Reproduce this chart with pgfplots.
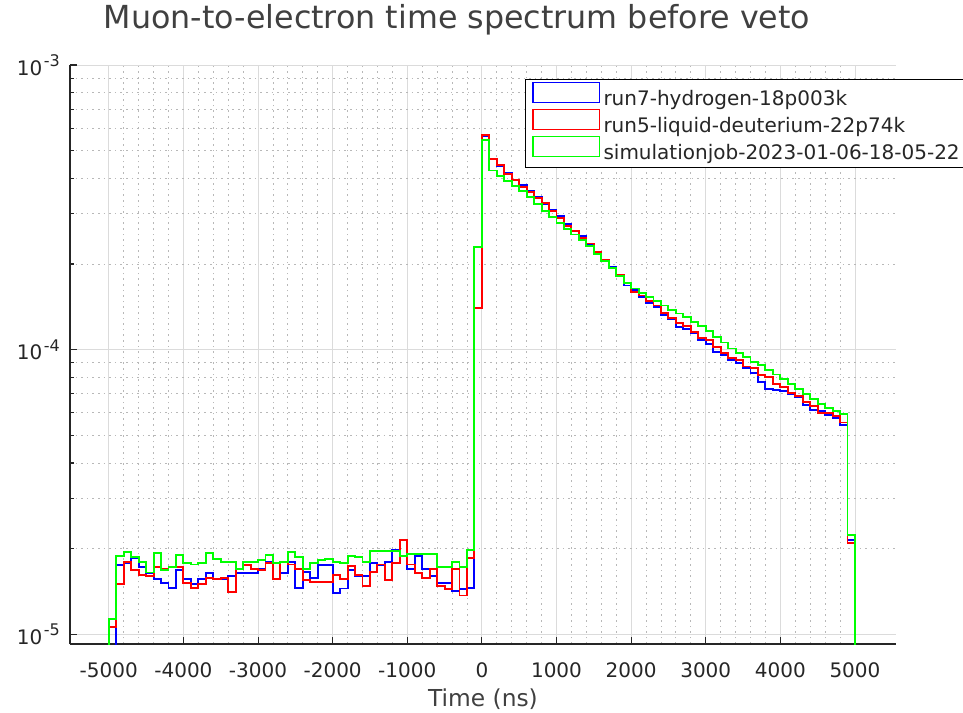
\documentclass[border=0pt]{standalone}
\usepackage{fontspec}
\setmainfont{DejaVu Sans}
\usepackage{pgfplots}
\usepackage{pgfplotstable}
\pgfplotsset{compat=1.18}

\definecolor{txt}{HTML}{262626}
\definecolor{ttl}{HTML}{404040}
\definecolor{hblue}{RGB}{0,0,255}
\definecolor{dred}{RGB}{255,0,0}
\definecolor{sgreen}{RGB}{0,255,0}

% power-of-ten tick label with a large raised exponent
\newcommand{\decade}[1]{10\kern1pt\raisebox{6.5pt}{\fontsize{12}{12}\selectfont #1}}

% Normalised counts per 100 ns bin (left bin edge t in ns).
% Columns: run7 hydrogen (b), run5 liquid deuterium (r), simulation job (g).
% First and last rows close the outline below the axis.
\pgfplotstableread{
t     b        r        g
-5000 1e-7     1e-7     1e-7
-5000 0.85e-5  1.06e-5  1.13e-5
-4900 1.75e-5  1.50e-5  1.88e-5
-4800 1.78e-5  1.80e-5  1.95e-5
-4700 1.85e-5  1.68e-5  1.87e-5
-4600 1.72e-5  1.62e-5  1.80e-5
-4500 1.64e-5  1.60e-5  1.65e-5
-4400 1.57e-5  1.72e-5  1.93e-5
-4300 1.52e-5  1.70e-5  1.68e-5
-4200 1.46e-5  1.72e-5  1.72e-5
-4100 1.68e-5  1.72e-5  1.90e-5
-4000 1.57e-5  1.52e-5  1.78e-5
-3900 1.50e-5  1.46e-5  1.76e-5
-3800 1.57e-5  1.50e-5  1.78e-5
-3700 1.64e-5  1.58e-5  1.93e-5
-3600 1.57e-5  1.57e-5  1.84e-5
-3500 1.57e-5  1.58e-5  1.80e-5
-3400 1.60e-5  1.41e-5  1.80e-5
-3300 1.64e-5  1.70e-5  1.70e-5
-3200 1.64e-5  1.75e-5  1.80e-5
-3100 1.64e-5  1.70e-5  1.80e-5
-3000 1.70e-5  1.68e-5  1.82e-5
-2900 1.80e-5  1.78e-5  1.90e-5
-2800 1.78e-5  1.57e-5  1.78e-5
-2700 1.64e-5  1.80e-5  1.80e-5
-2600 1.80e-5  1.76e-5  1.95e-5
-2500 1.46e-5  1.70e-5  1.87e-5
-2400 1.66e-5  1.55e-5  1.70e-5
-2300 1.58e-5  1.53e-5  1.78e-5
-2200 1.75e-5  1.53e-5  1.82e-5
-2100 1.75e-5  1.53e-5  1.84e-5
-2000 1.40e-5  1.62e-5  1.80e-5
-1900 1.45e-5  1.57e-5  1.78e-5
-1800 1.68e-5  1.74e-5  1.88e-5
-1700 1.60e-5  1.62e-5  1.87e-5
-1600 1.60e-5  1.48e-5  1.80e-5
-1500 1.78e-5  1.66e-5  1.96e-5
-1400 1.75e-5  1.76e-5  1.96e-5
-1300 1.80e-5  1.55e-5  1.96e-5
-1200 1.98e-5  1.78e-5  1.96e-5
-1100 1.88e-5  2.15e-5  1.88e-5
-1000 1.70e-5  1.76e-5  1.92e-5
-900  1.88e-5  1.64e-5  1.92e-5
-800  1.70e-5  1.58e-5  1.92e-5
-700  1.60e-5  1.70e-5  1.92e-5
-600  1.52e-5  1.48e-5  1.72e-5
-500  1.52e-5  1.44e-5  1.72e-5
-400  1.42e-5  1.70e-5  1.80e-5
-300  1.44e-5  1.37e-5  1.72e-5
-200  1.46e-5  1.86e-5  1.98e-5
-100  1.40e-4  1.40e-4  2.30e-4
0     5.62e-4  5.68e-4  5.45e-4
100   4.66e-4  4.69e-4  4.26e-4
200   4.43e-4  4.45e-4  4.07e-4
300   4.18e-4  4.13e-4  3.90e-4
400   3.96e-4  3.94e-4  3.75e-4
500   3.78e-4  3.72e-4  3.61e-4
600   3.62e-4  3.58e-4  3.43e-4
700   3.43e-4  3.41e-4  3.24e-4
800   3.24e-4  3.28e-4  3.07e-4
900   3.09e-4  3.07e-4  2.92e-4
1000  2.95e-4  2.91e-4  2.78e-4
1100  2.76e-4  2.72e-4  2.66e-4
1200  2.62e-4  2.61e-4  2.54e-4
1300  2.50e-4  2.47e-4  2.43e-4
1400  2.34e-4  2.36e-4  2.31e-4
1500  2.21e-4  2.20e-4  2.17e-4
1600  2.04e-4  2.07e-4  2.05e-4
1700  1.95e-4  1.93e-4  1.93e-4
1800  1.82e-4  1.83e-4  1.82e-4
1900  1.68e-4  1.72e-4  1.72e-4
2000  1.62e-4  1.60e-4  1.64e-4
2100  1.53e-4  1.55e-4  1.58e-4
2200  1.46e-4  1.48e-4  1.53e-4
2300  1.41e-4  1.43e-4  1.48e-4
2400  1.32e-4  1.35e-4  1.43e-4
2500  1.28e-4  1.29e-4  1.38e-4
2600  1.20e-4  1.24e-4  1.34e-4
2700  1.18e-4  1.21e-4  1.30e-4
2800  1.14e-4  1.15e-4  1.25e-4
2900  1.08e-4  1.10e-4  1.21e-4
3000  1.05e-4  1.08e-4  1.16e-4
3100  0.98e-4  1.02e-4  1.11e-4
3200  0.96e-4  0.977e-4 1.06e-4
3300  0.92e-4  0.938e-4 1.01e-4
3400  0.90e-4  0.92e-4  0.975e-4
3500  0.86e-4  0.873e-4 0.945e-4
3600  0.83e-4  0.86e-4  0.908e-4
3700  0.77e-4  0.813e-4 0.881e-4
3800  0.73e-4  0.80e-4  0.849e-4
3900  0.72e-4  0.757e-4 0.818e-4
4000  0.715e-4 0.74e-4  0.788e-4
4100  0.70e-4  0.705e-4 0.760e-4
4200  0.68e-4  0.69e-4  0.729e-4
4300  0.64e-4  0.656e-4 0.700e-4
4400  0.615e-4 0.635e-4 0.671e-4
4500  0.61e-4  0.60e-4  0.644e-4
4600  0.59e-4  0.598e-4 0.622e-4
4700  0.575e-4 0.585e-4 0.607e-4
4800  0.545e-4 0.555e-4 0.594e-4
4900  2.15e-5  2.10e-5  2.23e-5
5000  2.15e-5  2.10e-5  2.23e-5
5000  1e-7     1e-7     1e-7
}\spec

\begin{document}
\begin{tikzpicture}[x=0.75pt,y=0.75pt]
\useasboundingbox (0,0) rectangle (963,713);
\begin{axis}[
  at={(52.5pt,51.75pt)}, anchor=south west,
  scale only axis, width=619.5pt, height=434.25pt,
  ymode=log, log basis y=10,
  xmin=-5520, xmax=5550, ymin=9.25e-6, ymax=1e-3,
  axis x line*=bottom, axis y line*=left,
  axis line style={-, txt, line width=0.9pt},
  tick align=inside,
  major tick length=5.5pt, minor tick length=3pt,
  tick style={txt, line width=0.8pt},
  minor x tick style={draw=none},
  xtick={-5000,-4000,...,5000},
  xticklabels={-5000,-4000,-3000,-2000,-1000,0,1000,2000,3000,4000,5000},
  minor x tick num=4,
  ytick={1e-5,1e-4,1e-3},
  yticklabels={\decade{-5},\decade{-4},\decade{-3}},
  minor ytick={2e-5,3e-5,4e-5,5e-5,6e-5,7e-5,8e-5,9e-5,2e-4,3e-4,4e-4,5e-4,6e-4,7e-4,8e-4,9e-4},
  grid=both,
  major grid style={black!14, line width=0.6pt},
  minor grid style={black!28, line width=0.6pt, dash pattern=on 1.2pt off 3pt},
  ticklabel style={font=\fontsize{15}{18}\selectfont, text=txt},
  xticklabel style={anchor=north, inner sep=0pt, yshift=-14pt},
  yticklabel style={anchor=base east, inner sep=0pt, xshift=-7.5pt, yshift=-7.5pt},
  xlabel={Time (ns)},
  xlabel style={at={(axis description cs:0.5,0)}, anchor=base, yshift=-46.5pt,
    font=\fontsize{17.5}{20}\selectfont, text=ttl},
  legend style={at={(0.551,0.976)}, anchor=north west, draw=black, line width=0.6pt,
    fill=white, font=\fontsize{15}{18}\selectfont, text=txt,
    inner xsep=5pt, inner ysep=2pt, row sep=-1pt,
    nodes={inner sep=0pt, text height=11pt, text depth=3.5pt},
    /tikz/every odd column/.append style={column sep=2.5pt}},
  legend cell align=left,
  legend image code/.code={\draw[#1, line width=1pt] (0pt,-1.5pt) rectangle (50pt,13.5pt);},
]
\addplot[const plot, hblue, line width=1.4pt] table[x=t, y=b] {\spec};
\addplot[const plot, dred, line width=1.4pt] table[x=t, y=r] {\spec};
\addplot[const plot, sgreen, line width=1.4pt] table[x=t, y=g] {\spec};
\legend{run7-hydrogen-18p003k, run5-liquid-deuterium-22p74k, simulationjob-2023-01-06-18-05-22}
\end{axis}
\node[anchor=base, font=\fontsize{23.8}{28}\selectfont, text=ttl] at (457,684)
  {Muon-to-electron time spectrum before veto};
\end{tikzpicture}
\end{document}
